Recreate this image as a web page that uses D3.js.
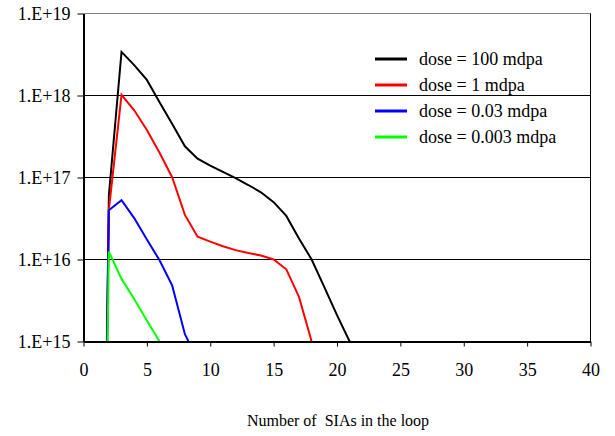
<!DOCTYPE html>
<html>
<head>
<meta charset="utf-8">
<script src="https://cdn.jsdelivr.net/npm/d3@7"></script>
<style>
  body { margin: 0; background: #fff; }
  text { font-family: "Liberation Serif", "Times New Roman", serif; fill: #000; }
</style>
</head>
<body>
<div id="viz"></div>
<script>
const width = 615, height = 436;
const plotLeft = 83.5, plotRight = 590.5, plotTop = 13.5, plotBottom = 341.5;

// number of SIAs in the loop (x values shared by every series)
const loopSize = [1, 2, 3, 4, 5, 6, 7, 8, 9, 10, 11, 12, 13, 14, 15, 16, 17, 18, 19, 20, 21];

// loop concentrations (first point is below the axis minimum)
const dose100 = [1e5, 6e16, 3.4e18, 2.35e18, 1.55e18, 8.3e17, 4.5e17, 2.4e17, 1.7e17, 1.4e17,
  1.17e17, 9.8e16, 8.1e16, 6.6e16, 5e16, 3.4e16, 1.8e16, 1e16, 4.6e15, 2.1e15, 1e15];
const dose1 = [1e5, 4e16, 1.02e18, 6.6e17, 3.8e17, 2e17, 1e17, 3.5e16, 1.9e16, 1.65e16,
  1.45e16, 1.3e16, 1.2e16, 1.12e16, 1e16, 7.6e15, 3.5e15, 1e15];
const dose003 = [1e5, 4e16, 5.3e16, 3.2e16, 1.75e16, 9.8e15, 4.8e15, 1.23e15, 6e14];
const dose0003 = [1e5, 1.25e16, 5.8e15, 3.3e15, 1.8e15, 1e15];

const seriesNames = ["dose = 100 mdpa", "dose = 1 mdpa", "dose = 0.03 mdpa", "dose = 0.003 mdpa"];
const seriesColors = ["#000000", "#ff0000", "#0000ff", "#00ff00"];
const seriesValues = [dose100, dose1, dose003, dose0003];

const xTicks = [0, 5, 10, 15, 20, 25, 30, 35, 40];
const yTicks = [1e15, 1e16, 1e17, 1e18, 1e19];

const svg = d3.select("#viz").append("svg")
  .attr("width", width)
  .attr("height", height);

const x = d3.scaleLinear().domain([0, 40]).range([plotLeft, plotRight]);
const y = d3.scaleLog().domain([1e15, 1e19]).range([plotBottom, plotTop]);

svg.append("clipPath").attr("id", "plot")
  .append("rect")
  .attr("x", plotLeft).attr("y", plotTop)
  .attr("width", plotRight - plotLeft).attr("height", plotBottom - plotTop);

// gridlines
svg.append("g")
  .selectAll("line")
  .data(yTicks.slice(1))
  .enter()
  .append("line")
  .attr("x1", plotLeft).attr("x2", plotRight)
  .attr("y1", d => y(d)).attr("y2", d => y(d))
  .attr("stroke", (d, i) => i === 3 ? "#808080" : "#000")
  .attr("stroke-width", 1);

// right border
svg.append("line")
  .attr("x1", plotRight).attr("x2", plotRight)
  .attr("y1", plotTop).attr("y2", plotBottom)
  .attr("stroke", "#000");

// lines
const line = d3.line()
  .x((d, i) => x(loopSize[i]))
  .y(d => y(d));

svg.append("g")
  .attr("clip-path", "url(#plot)")
  .selectAll("path")
  .data(seriesValues)
  .enter()
  .append("path")
  .attr("d", d => line(d))
  .attr("fill", "none")
  .attr("stroke", (d, i) => seriesColors[i])
  .attr("stroke-width", 2)
  .attr("stroke-linejoin", "miter");

// X axis
const xAxis = svg.append("g")
  .attr("transform", `translate(0, ${plotBottom})`)
  .call(d3.axisBottom(x).tickValues(xTicks).tickSize(5).tickSizeOuter(0).tickPadding(17));
xAxis.select(".domain").attr("stroke-width", 2);
xAxis.selectAll("text").attr("font-size", "18px").attr("font-family", "Liberation Serif, serif");

// Y axis
const yAxis = svg.append("g")
  .attr("transform", `translate(${plotLeft}, 0)`)
  .call(d3.axisLeft(y).tickValues(yTicks).tickSize(6).tickSizeOuter(0).tickPadding(7)
    .tickFormat(d => "1.E+" + Math.round(Math.log10(d))));
yAxis.select(".domain").attr("stroke-width", 2);
yAxis.selectAll("text").attr("font-size", "18px").attr("font-family", "Liberation Serif, serif");

// axis title
svg.append("text")
  .attr("x", 338)
  .attr("y", 426)
  .attr("text-anchor", "middle")
  .attr("font-size", "16px")
  .style("white-space", "pre")
  .text("Number of  SIAs in the loop");

// legend
const legend = svg.append("g").attr("transform", "translate(375, 59)");
seriesNames.forEach((name, i) => {
  const item = legend.append("g").attr("transform", `translate(0, ${i * 26})`);
  item.append("line")
    .attr("x1", 0).attr("x2", 32)
    .attr("stroke", seriesColors[i])
    .attr("stroke-width", 3);
  item.append("text")
    .attr("x", 44)
    .attr("dy", "0.35em")
    .attr("font-size", "18px")
    .text(name);
});
</script>
</body>
</html>
